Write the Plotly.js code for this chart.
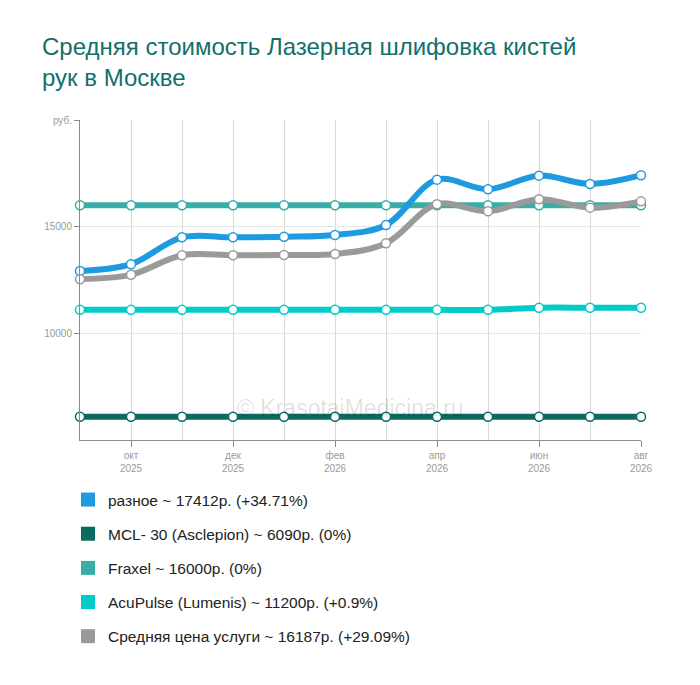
<!DOCTYPE html>
<html><head><meta charset="utf-8">
<script src="https://cdn.plot.ly/plotly-3.0.1.min.js"></script>
<style>html,body{margin:0;padding:0;background:#fff;}#chart{width:700px;height:685px;}</style>
</head><body><div id="chart"></div>
<script>
const months = [0,1,2,3,4,5,6,7,8,9,10,11];
const tickPos = [1,3,5,7,9,11];
const tickLabels = ['окт<br>2025','дек<br>2025','фев<br>2026','апр<br>2026','июн<br>2026','авг<br>2026'];
const raznoe = [12925,13240,14500,14500,14530,14610,15080,17205,16754,17392,17003,17412];
const mcl = [6090,6090,6090,6090,6090,6090,6090,6090,6090,6090,6090,6090];
const fraxel = [16000,16000,16000,16000,16000,16000,16000,16000,16000,16000,16000,16000];
const acupulse = [11100,11100,11100,11100,11100,11100,11100,11100,11100,11200,11200,11200];
const average = [12539,12749,13659,13659,13673,13720,14221,16051,15722,16285,15891,16187];
const names = ['разное ~ 17412р. (+34.71%)','MCL- 30 (Asclepion) ~ 6090р. (0%)','Fraxel ~ 16000р. (0%)','AcuPulse (Lumenis) ~ 11200р. (+0.9%)','Средняя цена услуги ~ 16187р. (+29.09%)'];
const colors = ['#1e9be0','#0b6b61','#38aea6','#00cbc8','#9a9a9a'];
const series = [raznoe, mcl, fraxel, acupulse, average];
const drawOrder = [2,3,1,0,4];

const traces = [];
drawOrder.forEach(i => {
  traces.push({
    x: months, y: series[i], type:'scatter', mode:'lines+markers',
    line:{color:colors[i], width:6, shape:'spline', smoothing:1},
    marker:{size:9, color:'#ffffff', line:{color:colors[i], width:1.5}},
    cliponaxis:false, showlegend:false, hoverinfo:'skip'
  });
});
names.forEach((n,i) => {
  traces.push({
    x:[null], y:[null], type:'scatter', mode:'markers', name:n,
    marker:{symbol:'square', size:14, color:colors[i]},
    legendgroup:'g'+i, showlegend:true
  });
});

const layout = {
  width:700, height:685,
  margin:{l:80, r:59, t:120, b:245, autoexpand:false},
  paper_bgcolor:'#fff', plot_bgcolor:'#fff',
  font:{family:'Liberation Sans, Arial, sans-serif'},
  title:{text:'Средняя стоимость Лазерная шлифовка кистей<br>рук в Москве', x:42/700, xanchor:'left', xref:'container', y:1-55/685, yanchor:'top', yref:'container',
    font:{size:24, color:'#12706a', family:'Liberation Sans, Arial, sans-serif'}},
  xaxis:{range:[0,11], tickmode:'array', tickvals:tickPos, ticktext:tickLabels,
    showgrid:true, gridcolor:'#d9d9d9', gridwidth:1,
    minor:{tickmode:'linear', tick0:0, dtick:1, showgrid:true, gridcolor:'#d9d9d9', ticks:''},
    showline:true, linecolor:'#8c8c8c', linewidth:1, ticks:'outside', ticklen:6, tickcolor:'#8c8c8c',
    tickfont:{size:10, color:'#9a9a9a'}, zeroline:false, fixedrange:true},
  yaxis:{range:[5000,20000], tickmode:'array', tickvals:[10000,15000,20000], ticktext:['10000','15000','руб.'],
    showgrid:true, gridcolor:'#e6e6e6', gridwidth:1.5,
    showline:true, linecolor:'#8c8c8c', linewidth:1, ticks:'outside', ticklen:5, tickcolor:'#8c8c8c',
    tickfont:{size:10, color:'#9a9a9a'}, zeroline:false, fixedrange:true},
  shapes:[{type:'line', xref:'x', yref:'paper', x0:-0.09, x1:0, y0:0, y1:0, line:{color:'#8c8c8c', width:1}}],
  showlegend:true,
  legend:{x:68/700, xref:'container', xanchor:'left', y:1-483/685, yref:'container', yanchor:'top',
    orientation:'v', tracegroupgap:11, font:{size:15.5, color:'#222'}, bgcolor:'rgba(0,0,0,0)', itemwidth:30, traceorder:'grouped'},
  annotations:[{text:'© KrasotaiMedicina.ru', xref:'paper', yref:'paper', x:0.483, y:0.1, yanchor:'middle', xanchor:'center', showarrow:false,
    font:{size:23, color:'rgba(0,0,0,0.12)'}}]
};
Plotly.newPlot('chart', traces, layout, {displayModeBar:false, staticPlot:true});
</script></body></html>
